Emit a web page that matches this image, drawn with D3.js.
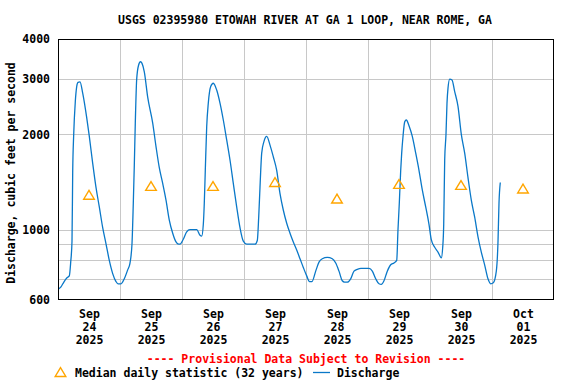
<!DOCTYPE html>
<html>
<head>
<meta charset="utf-8">
<script src="https://cdn.jsdelivr.net/npm/d3@7/dist/d3.min.js"></script>
<style>
  html, body { margin: 0; padding: 0; background: #ffffff; }
  svg { display: block; }
  text { font-family: "DejaVu Sans Mono", monospace; font-weight: bold; }
</style>
</head>
<body>
<svg id="chart" width="576" height="384"></svg>
<script>
// ---------------- DATA ----------------
const chartTitle = "USGS 02395980 ETOWAH RIVER AT GA 1 LOOP, NEAR ROME, GA";
const yAxisTitle = "Discharge, cubic feet per second";
const provisionalNote = "---- Provisional Data Subject to Revision ----";
const legendMedian = "Median daily statistic (32 years)";
const legendDischarge = "Discharge";

// Discharge: hours since 2025-09-24 00:00, and discharge (cfs)
const dischargeHours = [
  0, 1.16, 2.32, 3.48, 4.37, 4.92, 5.42, 5.69, 6.08, 6.70, 7.24, 7.74, 8.52, 9.56, 11.11, 12.12,
  13.43, 14.71, 15.99, 17.30, 18.58, 19.86, 21.17, 22.45, 23.23, 24.39, 25.66, 26.98, 27.87, 28.65,
  29.15, 29.54, 29.92, 30.46, 31.16, 31.94, 32.52, 33.41, 34.72, 36.66, 37.94, 39.21, 40.53, 41.81,
  43.08, 44.40, 45.68, 46.72, 47.23, 48.50, 49.82, 51.10, 53.69, 54.97, 55.63, 56.25, 56.63, 57.02,
  57.56, 58.18, 59.11, 60.12, 61.43, 62.71, 63.99, 65.30, 66.58, 67.86, 69.17, 70.45, 71.73, 73.05,
  76.26, 77.15, 77.69, 78.19, 78.85, 79.74, 80.79, 82.07, 83.34, 84.66, 85.94, 87.21, 88.53, 89.81,
  91.09, 92.40, 93.68, 94.96, 96.27, 97.36, 98.32, 99.75, 101.03, 102.31, 104.25, 106.18, 107.50,
  108.77, 110.05, 110.90, 111.99, 113.30, 114.58, 115.86, 117.29, 120.39, 121.67, 122.98, 124.26,
  125.15, 126.19, 127.47, 128.79, 130.06, 131.11, 131.61, 132.12, 132.66, 133.04, 133.55, 134.21,
  134.83, 135.87, 137.15, 138.47, 139.74, 141.02, 142.34, 143.61, 144.50, 145.82, 147.10, 148.38,
  148.92, 149.31, 149.69, 150.19, 150.58, 150.97, 151.63, 152.52, 153.56, 154.84, 156.12, 157.43,
  158.71, 159.99, 161.30, 162.58, 163.86, 165.15, 166.45, 167.50, 168.50, 169.67, 170.32, 170.71, 171.21
];
const dischargeValues = [
  648, 660, 685, 705, 715, 790, 920, 1520, 2000, 2540, 2830, 2920, 2930, 2700, 2260, 1970,
  1620, 1360, 1180, 1015, 903, 800, 727, 686, 675, 675, 700, 747, 785, 905,
  1215, 1600, 2170, 2985, 3300, 3390, 3350, 3150, 2620, 2170, 1830, 1570, 1400, 1240,
  1073, 975, 915, 900, 900, 933, 985, 1000, 1000, 960, 955, 1040, 1215, 1540,
  2115, 2510, 2830, 2900, 2760, 2510, 2220, 1920, 1660, 1400, 1180, 1015, 920, 900,
  900, 925, 1095, 1360, 1745, 1900, 1970, 1850, 1700, 1540, 1300, 1154, 1048, 975,
  915, 863, 810, 760, 715, 686, 686, 740, 790, 810, 818, 810, 785,
  740, 690, 683, 683, 700, 740, 750, 755, 755, 740, 700, 675,
  672, 690, 740, 775, 785, 800, 1000, 1215, 1540, 1745, 1970, 2190,
  2220, 2130, 1970, 1745, 1540, 1335, 1180, 1040, 930, 880, 850, 815,
  880, 1040, 1660, 2000, 2510, 2800, 2990, 2970, 2730, 2450, 2000, 1745,
  1460, 1240, 1095, 950, 850, 775, 700, 675, 680, 740, 915, 1215, 1410
];

// Median daily statistic at noon of each day
const medianDays = ["2025-09-24", "2025-09-25", "2025-09-26", "2025-09-27", "2025-09-28", "2025-09-29", "2025-09-30", "2025-10-01"];
const medianValues = [1285, 1370, 1370, 1410, 1250, 1390, 1380, 1345];

// Axis ticks
const yTickValues = [600, 1000, 2000, 3000, 4000];
const yGridValues = [700, 800, 900, 1000, 2000, 3000];
const xTickMonths = ["Sep", "Sep", "Sep", "Sep", "Sep", "Sep", "Sep", "Oct"];
const xTickDays = ["24", "25", "26", "27", "28", "29", "30", "01"];
const xTickYears = ["2025", "2025", "2025", "2025", "2025", "2025", "2025", "2025"];

// ---------------- CHART ----------------
const svg = d3.select("#chart");
const plot = { left: 58, right: 554, top: 39, bottom: 300 };

const start = new Date(Date.UTC(2025, 8, 24));
const end = new Date(Date.UTC(2025, 9, 2));
const hourMs = 3600 * 1000;

const x = d3.scaleUtc().domain([start, end]).range([plot.left, plot.right]);
const y = d3.scaleLog().domain([600, 4000]).range([plot.bottom, plot.top]);

const discharge = dischargeHours.map((h, i) => ({ t: new Date(start.getTime() + h * hourMs), v: dischargeValues[i] }));
const medians = medianDays.map((d, i) => ({ t: new Date(Date.parse(d + "T12:00:00Z")), v: medianValues[i] }));

// Title
svg.append("text")
  .attr("x", 305)
  .attr("y", 24)
  .attr("text-anchor", "middle")
  .style("font-size", "11.5px")
  .attr("fill", "#000")
  .text(chartTitle);

// Gridlines
const grid = svg.append("g").attr("shape-rendering", "crispEdges");
grid.selectAll("line.h").data(yGridValues).enter().append("line")
  .attr("x1", plot.left).attr("x2", plot.right)
  .attr("y1", d => Math.round(y(d)) + 0.5).attr("y2", d => Math.round(y(d)) + 0.5)
  .attr("stroke", "#c8c8c8").attr("stroke-width", 1);

const midnights = d3.utcDay.range(d3.utcDay.offset(start, 1), end);
grid.selectAll("line.v").data(midnights).enter().append("line")
  .attr("y1", plot.top).attr("y2", plot.bottom)
  .attr("x1", d => Math.round(x(d)) + 0.5).attr("x2", d => Math.round(x(d)) + 0.5)
  .attr("stroke", "#c8c8c8").attr("stroke-width", 1);

// Clip path
svg.append("clipPath").attr("id", "clip")
  .append("rect").attr("x", plot.left).attr("y", plot.top)
  .attr("width", plot.right - plot.left).attr("height", plot.bottom - plot.top);

// Discharge line
const line = d3.line().x(d => x(d.t)).y(d => y(d.v)).curve(d3.curveMonotoneX);
svg.append("path")
  .datum(discharge)
  .attr("clip-path", "url(#clip)")
  .attr("fill", "none")
  .attr("stroke", "#0a78c8")
  .attr("stroke-width", 1.3)
  .attr("d", line);

// Median triangles
const tri = "M0,-4.8 L5.3,4 L-5.3,4 Z";
svg.selectAll("path.med").data(medians).enter().append("path")
  .attr("class", "med")
  .attr("transform", d => `translate(${x(d.t)},${y(d.v)})`)
  .attr("d", tri)
  .attr("fill", "none")
  .attr("stroke", "#ffa500")
  .attr("stroke-width", 1.4);

// Plot frame
svg.append("rect")
  .attr("x", plot.left + 0.5).attr("y", plot.top + 0.5)
  .attr("width", plot.right - plot.left - 1).attr("height", plot.bottom - plot.top - 1)
  .attr("fill", "none").attr("stroke", "#000").attr("stroke-width", 1.2)
  .attr("shape-rendering", "crispEdges");

// Y axis
const yAxis = d3.axisLeft(y).tickValues(yTickValues).tickSize(0).tickPadding(8).tickFormat(d3.format("d"));
const gy = svg.append("g").attr("transform", `translate(${plot.left},0)`).call(yAxis);
gy.select(".domain").remove();
gy.selectAll("text").style("font-size", "11.5px").style("font-family", "'DejaVu Sans Mono', monospace")
  .style("font-weight", "bold").attr("fill", "#000");

// X axis (labels at noon)
const noonTicks = medianDays.map(d => new Date(Date.parse(d + "T12:00:00Z")));
const xAxis = d3.axisBottom(x).tickValues(noonTicks).tickSize(0).tickPadding(0).tickFormat(() => "");
const gx = svg.append("g").attr("transform", `translate(0,${plot.bottom})`).call(xAxis);
gx.select(".domain").remove();
gx.selectAll(".tick text").each(function(d, i) {
  const t = d3.select(this).attr("y", 0).attr("dy", null)
    .style("font-size", "11.5px").style("font-family", "'DejaVu Sans Mono', monospace")
    .style("font-weight", "bold").attr("fill", "#000");
  t.append("tspan").attr("x", 0).attr("y", 18).text(xTickMonths[i]);
  t.append("tspan").attr("x", 0).attr("y", 31).text(xTickDays[i]);
  t.append("tspan").attr("x", 0).attr("y", 44).text(xTickYears[i]);
});

// Y axis title
svg.append("text")
  .attr("transform", "translate(15,173) rotate(-90)")
  .attr("text-anchor", "middle")
  .style("font-size", "11.5px")
  .attr("fill", "#000")
  .text(yAxisTitle);

// Provisional note
svg.append("text")
  .attr("x", 306).attr("y", 363)
  .attr("text-anchor", "middle")
  .style("font-size", "11.5px")
  .attr("fill", "#ff0000")
  .text(provisionalNote);

// Legend
svg.append("path")
  .attr("transform", "translate(60.5,372.5)")
  .attr("d", tri)
  .attr("fill", "none").attr("stroke", "#ffa500").attr("stroke-width", 1.4);
svg.append("text")
  .attr("x", 75).attr("y", 376.5)
  .style("font-size", "11.5px").attr("fill", "#000")
  .text(legendMedian);
svg.append("line")
  .attr("x1", 313).attr("x2", 330).attr("y1", 372.5).attr("y2", 372.5)
  .attr("stroke", "#0a78c8").attr("stroke-width", 1.3);
svg.append("text")
  .attr("x", 337).attr("y", 376.5)
  .style("font-size", "11.5px").attr("fill", "#000")
  .text(legendDischarge);
</script>
</body>
</html>
